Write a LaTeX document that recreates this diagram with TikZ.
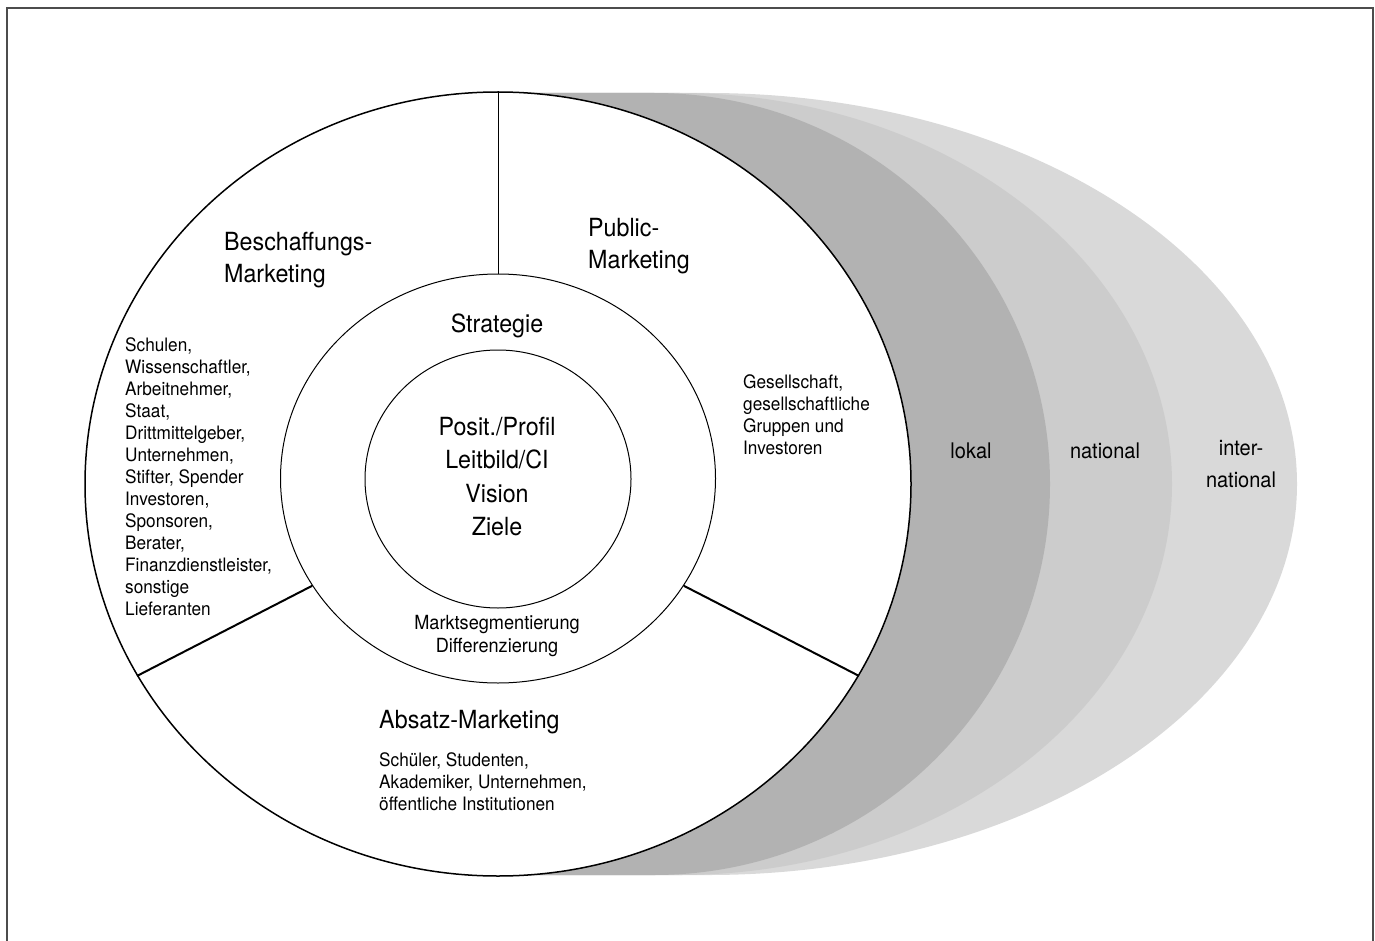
\documentclass[tikz,border=0pt]{standalone}
\usepackage{fontspec}
\setmainfont{TeX Gyre Heros}[FakeStretch = 0.93]
\usetikzlibrary{shapes.geometric}
\definecolor{lokalgrey}{HTML}{B2B2B2}
\definecolor{nationalgrey}{HTML}{CCCCCC}
\definecolor{intgrey}{HTML}{D9D9D9}
\tikzset{ringshape/.style = {draw, ellipse, fill = white, inner sep = 0, line width = 1pt},
  divider/.style = {line width = 2pt},
  headtext/.style = {font = \fontsize{25}{32}\selectfont, align = left, inner sep = 0},
  grouptext/.style = {font = \fontsize{18.5}{22}\selectfont, align = left, inner sep = 0},
  zonetext/.style = {font = \fontsize{21.5}{32}\selectfont, align = center, inner sep = 0}}

\begin{document}
\begin{tikzpicture}[x = 1pt, y = -1pt]
  \useasboundingbox (0, 0) rectangle (1375, 941);
  \draw [line width = 1.5pt, black!70] (7, 941) -- (7, 8) -- (1373, 8) -- (1373, 941);

  % scopes behind the market, widest first
  \fill [intgrey] (520, 93) -- (708, 93) arc [start angle = -90, end angle = 90, x radius = 589, y radius = 391] -- (520, 875) -- cycle;
  \fill [nationalgrey] (520, 93) -- (679, 93) arc [start angle = -90, end angle = 90, x radius = 493, y radius = 391] -- (520, 875) -- cycle;
  \fill [lokalgrey] (520, 93) -- (654, 93) arc [start angle = -90, end angle = 90, x radius = 396, y radius = 391] -- (520, 875) -- cycle;

  \node (markt) at (498, 484) [ringshape, line width = 1.5pt, minimum width = 826pt, minimum height = 784pt] {};
  \node (strategie) at (498, 478.5) [ringshape, minimum width = 435pt, minimum height = 409pt] {};
  \node (kern) at (498, 479) [ringshape, minimum width = 266pt, minimum height = 258pt] {};

  \draw [line width = 1pt] (strategie.north) -- (markt.north);
  \draw [divider] (strategie.-30) -- (markt.-28);
  \draw [divider] (strategie.210) -- (markt.208);

  \node (beschaffung) at (224, 232) [headtext, anchor = north west] {Beschaffungs-\\Marketing};
  \node (public) at (588, 218) [headtext, anchor = north west] {Public-\\Marketing};
  \node (lieferanten) at (125, 337) [grouptext, anchor = north west] {Schulen,\\Wissenschaftler,\\Arbeitnehmer,\\Staat,\\Drittmittelgeber,\\Unternehmen,\\Stifter, Spender\\Investoren,\\Sponsoren,\\Berater,\\Finanzdienstleister,\\sonstige\\Lieferanten};
  \node (strategietext) at (497, 332) [headtext, anchor = base] {Strategie};
  \node (ziele) at (497, 417) [font = \fontsize{25}{33.3}\selectfont, align = center, inner sep = 0, anchor = north] {Posit./Profil\\Leitbild/CI\\Vision\\Ziele};
  \node (segmente) at (497, 615) [font = \fontsize{19.5}{23}\selectfont, align = center, inner sep = 0, anchor = north] {Marktsegmentierung\\Differenzierung};
  \node (absatz) at (379, 728) [headtext, anchor = base west] {Absatz-Marketing};
  \node (kunden) at (379, 752) [grouptext, anchor = north west] {Schüler, Studenten,\\Akademiker, Unternehmen,\\öffentliche Institutionen};
  \node (gesellschaft) at (743, 374) [grouptext, anchor = north west] {Gesellschaft,\\gesellschaftliche\\Gruppen und\\Investoren};

  \node (lokal) at (971, 458) [zonetext, anchor = base] {lokal};
  \node (national) at (1105, 458) [zonetext, anchor = base] {national};
  \node (international) at (1241, 440) [zonetext, anchor = north] {inter-\\national};
\end{tikzpicture}
\end{document}
